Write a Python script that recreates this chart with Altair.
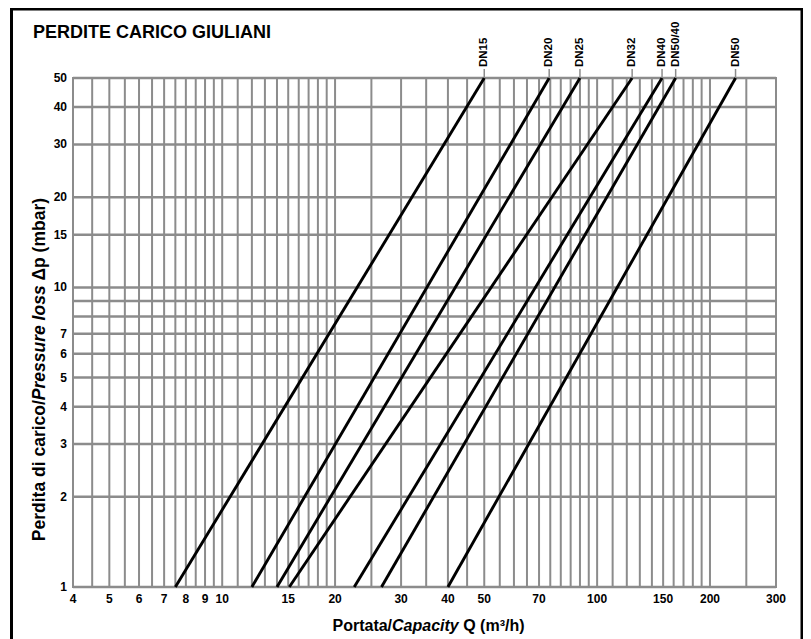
import altair as alt
import pandas as pd

# ---- data ----
series = ["DN15", "DN20", "DN25", "DN32", "DN40", "DN50/40", "DN50"]
dp_low = 1.0          # mbar, bottom of chart
dp_high = 50.0        # mbar, top of chart
q_at_low = [7.5, 12.0, 14.0, 15.1, 22.5, 26.6, 40.0]        # m3/h at 1 mbar
q_at_high = [50.0, 74.5, 90.0, 124.0, 149.0, 162.0, 234.0]  # m3/h at 50 mbar

x_grid = [4, 4.5, 5, 5.5, 6, 6.5, 7, 7.5, 8, 8.5, 9, 9.5, 10,
          11, 12, 13, 14, 15, 16, 17, 18, 19, 20,
          25, 30, 35, 40, 45, 50, 55, 60, 65, 70, 75, 80, 85, 90, 95, 100,
          110, 120, 130, 140, 150, 160, 170, 180, 190, 200, 250, 300]
y_grid = [1, 2, 3, 4, 5, 6, 7, 8, 9, 10, 15, 20, 30, 40, 50]
x_ticks = [4, 5, 6, 7, 8, 9, 10, 15, 20, 30, 40, 50, 70, 100, 150, 200, 300]
y_ticks = [1, 2, 3, 4, 5, 6, 7, 10, 15, 20, 30, 40, 50]

title_text = "PERDITE CARICO GIULIANI"
x_title_parts = ["Portata/", "Capacity", "Q (m³/h)"]
y_title_parts = ["Perdita di carico/", "Pressure loss", "Δp (mbar)"]

# ---- tables ----
rows = []
for s, lo, hi in zip(series, q_at_low, q_at_high):
    rows.append({"series": s, "q": lo, "dp": dp_low})
    rows.append({"series": s, "q": hi, "dp": dp_high})
lines_df = pd.DataFrame(rows)
top_df = pd.DataFrame({"series": series, "q": q_at_high})
xg_df = pd.DataFrame({"v": x_grid})
yg_df = pd.DataFrame({"v": y_grid})
xt_df = pd.DataFrame({"v": x_ticks, "lab": [str(v) for v in x_ticks]})
yt_df = pd.DataFrame({"v": y_ticks, "lab": [str(v) for v in y_ticks]})
one = pd.DataFrame({"k": [0]})

W, H = 703, 509
FONT = "Liberation Sans"
GRID = "#8c8c8c"

xs = alt.Scale(type="log", domain=[4, 300], nice=False)
ys = alt.Scale(type="log", domain=[1, 50], nice=False)

# approximate Arial/Liberation bold advance widths (per em)
AW = {" ": .278, "/": .278, "(": .333, ")": .333, "P": .667, "o": .611, "r": .389,
      "t": .333, "a": .556, "C": .722, "p": .611, "c": .556, "i": .278, "y": .556,
      "Q": .778, "m": .889, "h": .611, "³": .333, "e": .556, "d": .611, "s": .556,
      "u": .611, "l": .278, "b": .611, "Δ": .668}


def tw(s, size):
    return sum(AW.get(ch, .6) for ch in s) * size


# ---- layers ----
vgrid = alt.Chart(xg_df).mark_rule(color=GRID, strokeWidth=2).encode(
    x=alt.X("v:Q", scale=xs, axis=None))
hgrid = alt.Chart(yg_df).mark_rule(color=GRID, strokeWidth=2.5).encode(
    y=alt.Y("v:Q", scale=ys, axis=None))

x_labels = alt.Chart(xt_df).mark_text(
    align="center", baseline="top", font=FONT, fontWeight="bold",
    fontSize=12, color="black").encode(
    x=alt.X("v:Q", scale=xs, axis=None), y=alt.value(H + 7), text="lab:N")
y_labels = alt.Chart(yt_df).mark_text(
    align="right", baseline="middle", font=FONT, fontWeight="bold",
    fontSize=12, color="black").encode(
    y=alt.Y("v:Q", scale=ys, axis=None), x=alt.value(-6), text="lab:N")

lines = alt.Chart(lines_df).mark_line(color="black", strokeWidth=2.9).encode(
    x=alt.X("q:Q", scale=xs, axis=None),
    y=alt.Y("dp:Q", scale=ys, axis=None),
    detail="series:N",
)

leaders = alt.Chart(top_df).mark_rule(color=GRID, strokeWidth=1.5).encode(
    x=alt.X("q:Q", scale=xs, axis=None), y=alt.value(-9), y2=alt.value(0))

dn_labels = alt.Chart(top_df).mark_text(
    angle=270, align="left", baseline="middle", font=FONT, fontWeight="bold",
    fontSize=11.5, color="black").encode(
    x=alt.X("q:Q", scale=xs, axis=None), y=alt.value(-11), text="series:N")

title = alt.Chart(one).mark_text(
    text=title_text, align="left", baseline="middle", font=FONT,
    fontWeight="bold", fontSize=18, color="black").encode(
    x=alt.value(-40), y=alt.value(-45))

# x title composed of normal / italic parts
XS = 16
xw = [tw(p, XS) for p in x_title_parts]
sp = tw(" ", XS)
xtot = xw[0] + xw[1] + sp + xw[2]
x0 = W / 2 + 4 - xtot / 2
xty = 548
xt = []
xt.append(alt.Chart(one).mark_text(text=x_title_parts[0], align="left", baseline="middle",
          font=FONT, fontWeight="bold", fontSize=XS, color="black").encode(
          x=alt.value(x0), y=alt.value(xty)))
xt.append(alt.Chart(one).mark_text(text=x_title_parts[1], align="left", baseline="middle",
          font=FONT, fontWeight="bold", fontStyle="italic", fontSize=XS, color="black").encode(
          x=alt.value(x0 + xw[0]), y=alt.value(xty)))
xt.append(alt.Chart(one).mark_text(text=x_title_parts[2], align="left", baseline="middle",
          font=FONT, fontWeight="bold", fontSize=XS, color="black").encode(
          x=alt.value(x0 + xw[0] + xw[1] + sp), y=alt.value(xty)))

# y title (rotated, reads upward)
YSZ = 17.5
yw = [tw(p, YSZ) for p in y_title_parts]
ysp = tw(" ", YSZ)
ytot = yw[0] + yw[1] + ysp + yw[2]
yc = 292
ybot = yc + ytot / 2
ytx = -33
yt = []
yt.append(alt.Chart(one).mark_text(text=y_title_parts[0], angle=270, align="left", baseline="middle",
          font=FONT, fontWeight="bold", fontSize=YSZ, color="black").encode(
          x=alt.value(ytx), y=alt.value(ybot)))
yt.append(alt.Chart(one).mark_text(text=y_title_parts[1], angle=270, align="left", baseline="middle",
          font=FONT, fontWeight="bold", fontStyle="italic", fontSize=YSZ, color="black").encode(
          x=alt.value(ytx), y=alt.value(ybot - yw[0])))
yt.append(alt.Chart(one).mark_text(text=y_title_parts[2], angle=270, align="left", baseline="middle",
          font=FONT, fontWeight="bold", fontSize=YSZ, color="black").encode(
          x=alt.value(ytx), y=alt.value(ybot - yw[0] - yw[1] - ysp)))

frame = alt.Chart(one).mark_rect(fillOpacity=0, stroke="black", strokeWidth=3).encode(
    x=alt.value(-61.5), x2=alt.value(729), y=alt.value(-69), y2=alt.value(575))

chart = alt.layer(vgrid, hgrid, x_labels, y_labels, lines, leaders, dn_labels,
                  title, *xt, *yt, frame).properties(
    width=W, height=H,
    autosize=alt.AutoSizeParams(type="none"),
    padding={"left": 65, "top": 70, "right": 27, "bottom": 52},
    background="white",
).configure_view(stroke=GRID, strokeWidth=2)

chart.save("out.html", embed_options={"renderer": "svg", "actions": False})
